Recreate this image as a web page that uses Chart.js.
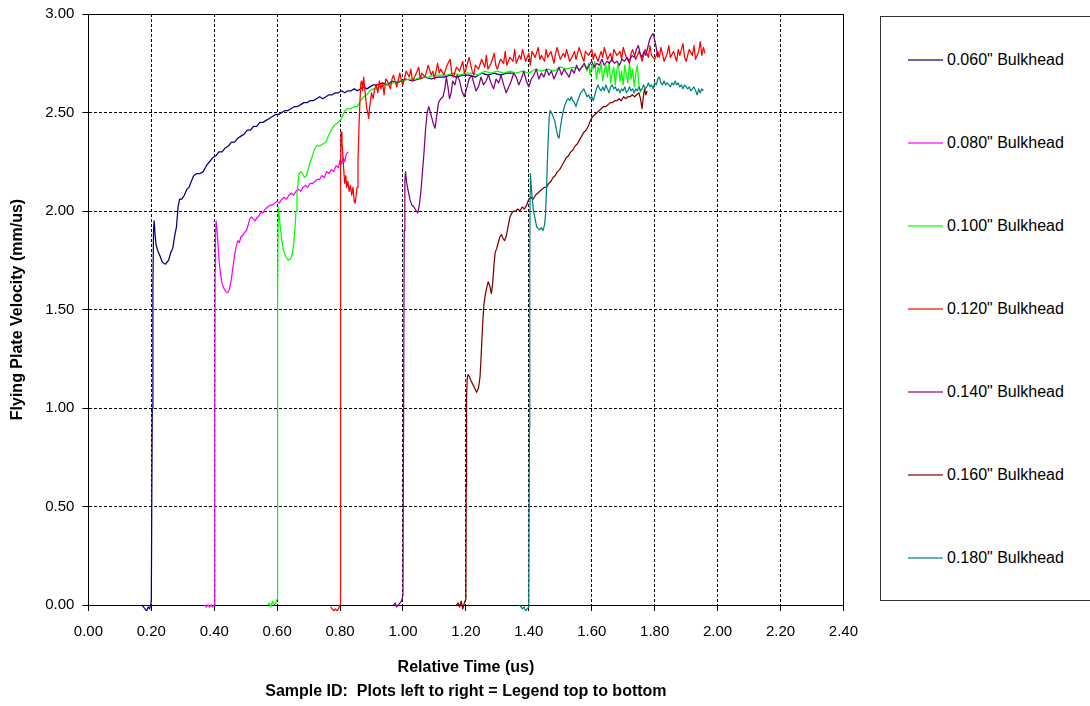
<!DOCTYPE html>
<html>
<head>
<meta charset="utf-8">
<title>Flying Plate Velocity vs Relative Time</title>
<script src="https://cdn.jsdelivr.net/npm/chart.js@4.4.1/dist/chart.umd.min.js"></script>
<style>
  html, body { margin: 0; padding: 0; background: #fff; overflow: hidden; }
  body { width: 1090px; height: 706px; position: relative; font-family: Arial, 'Liberation Sans', sans-serif; }
  #plotWrap { position: absolute; left: 0; top: 0; width: 870px; height: 706px; }
  #legend { position: absolute; left: 880px; top: 16px; width: 240px; height: 585px; border: 1px solid #333; box-sizing: border-box; }
  .leg-item { position: absolute; left: 27px; height: 20px; display: flex; align-items: center; font-size: 16px; color: #000; white-space: nowrap; }
  .leg-line { display: inline-block; width: 35px; height: 2px; opacity: 0.6; margin-right: 4px; }
</style>
</head>
<body>
<div id="plotWrap"><canvas id="velocityChart"></canvas></div>
<div id="legend"></div>
<script>
// ---------------------------------------------------------------------------
// Flying plate velocity traces, one per bulkhead thickness.
// Each trace is [relative time (us), velocity (mm/us)].
// ---------------------------------------------------------------------------
const NAMES = ['0.060" Bulkhead', '0.080" Bulkhead', '0.100" Bulkhead', '0.120" Bulkhead',
  '0.140" Bulkhead', '0.160" Bulkhead', '0.180" Bulkhead'];
const COLORS = ['#000080', '#FF00FF', '#00FF00', '#FF0000', '#800080', '#800000', '#008080'];
const X_TICKS = ['0.00', '0.20', '0.40', '0.60', '0.80', '1.00', '1.20', '1.40', '1.60', '1.80', '2.00', '2.20', '2.40'];
const Y_TICKS = ['0.00', '0.50', '1.00', '1.50', '2.00', '2.50', '3.00'];

const B060 = [
  [0.17,0.00],[0.175,-0.01],[0.18,-0.02],[0.185,-0.03],[0.19,-0.01],[0.195,-0.02],[0.20,0.02],
  [0.203,1.00],[0.205,1.60],[0.207,1.90],[0.209,1.95],[0.212,1.88],[0.215,1.83],[0.22,1.80],[0.228,1.77],
  [0.235,1.74],[0.245,1.73],[0.255,1.75],[0.262,1.79],[0.268,1.81],[0.275,1.88],[0.28,1.92],[0.285,2.02],
  [0.29,2.06],[0.297,2.06],[0.305,2.08],[0.313,2.11],[0.32,2.12],[0.327,2.15],[0.335,2.18],[0.345,2.19],
  [0.355,2.19],[0.365,2.20],[0.375,2.23],[0.385,2.25],[0.395,2.27],[0.405,2.28],[0.415,2.30],[0.425,2.30],
  [0.435,2.32],[0.445,2.33],[0.455,2.35],[0.465,2.35],[0.475,2.37],[0.485,2.38],[0.495,2.39],[0.505,2.41],
  [0.515,2.41],[0.525,2.43],[0.535,2.43],[0.545,2.45],[0.555,2.45],[0.565,2.46],[0.575,2.47],[0.585,2.48],
  [0.595,2.49],[0.605,2.49],[0.615,2.50],[0.625,2.51],[0.635,2.51],[0.645,2.52],[0.655,2.53],[0.665,2.53],
  [0.675,2.54],[0.685,2.55],[0.695,2.55],[0.705,2.56],[0.715,2.56],[0.725,2.57],[0.735,2.58],[0.745,2.57],
  [0.755,2.58],[0.765,2.59],[0.775,2.59],[0.785,2.60],[0.795,2.60],[0.805,2.61],[0.815,2.60],[0.825,2.61],
  [0.835,2.61],[0.845,2.62],[0.855,2.61],[0.865,2.62],[0.875,2.63],[0.885,2.62],[0.895,2.63],[0.905,2.64],
  [0.92,2.64],[0.935,2.65],[0.95,2.64],[0.965,2.66],[0.98,2.65],[0.995,2.66],[1.01,2.67],[1.03,2.66],
  [1.05,2.67],[1.07,2.68],[1.09,2.67],[1.11,2.68],[1.13,2.68],[1.15,2.69],[1.17,2.68],[1.19,2.69],
  [1.21,2.69],[1.23,2.68],[1.25,2.70],[1.27,2.69],[1.29,2.70],[1.31,2.69],[1.33,2.70],[1.35,2.70],
];

const B080 = [
  [0.37,0.00],[0.375,-0.01],[0.38,0.00],[0.385,-0.01],[0.39,0.00],[0.395,-0.01],[0.40,0.00],
  [0.402,0.90],[0.403,1.70],[0.404,1.88],[0.406,1.95],[0.409,1.90],[0.412,1.83],[0.416,1.74],[0.42,1.68],
  [0.425,1.63],[0.43,1.61],[0.437,1.59],[0.443,1.585],[0.448,1.60],[0.454,1.65],[0.46,1.72],[0.465,1.78],
  [0.47,1.82],[0.475,1.85],[0.48,1.84],[0.485,1.87],[0.49,1.875],[0.496,1.89],[0.502,1.90],[0.508,1.93],
  [0.513,1.96],[0.518,1.97],[0.524,1.96],[0.53,1.95],[0.535,1.965],[0.54,1.97],[0.547,1.99],[0.555,1.99],
  [0.562,2.01],[0.57,2.02],[0.578,2.03],[0.585,2.03],[0.592,2.04],[0.60,2.05],[0.607,2.04],[0.615,2.06],
  [0.622,2.07],[0.63,2.06],[0.637,2.08],[0.645,2.09],[0.652,2.08],[0.66,2.10],[0.667,2.11],[0.675,2.10],
  [0.682,2.12],[0.69,2.13],[0.697,2.12],[0.705,2.14],[0.712,2.14],[0.72,2.15],[0.727,2.16],[0.735,2.16],
  [0.742,2.18],[0.75,2.17],[0.757,2.20],[0.765,2.19],[0.772,2.21],[0.78,2.20],[0.787,2.23],[0.795,2.22],
  [0.80,2.26],[0.805,2.24],[0.81,2.27],[0.815,2.25],[0.82,2.29],[0.826,2.30],
];

const B100 = [
  [0.57,0.00],[0.575,0.01],[0.58,-0.01],[0.585,0.02],[0.59,0.00],[0.595,0.01],[0.60,0.03],
  [0.601,0.80],[0.602,1.55],[0.603,1.95],[0.604,2.02],[0.607,1.97],[0.61,1.92],[0.615,1.85],[0.62,1.80],
  [0.627,1.77],[0.635,1.75],[0.642,1.755],[0.648,1.78],[0.653,1.84],[0.657,1.92],[0.66,2.00],[0.663,2.08],
  [0.667,2.15],[0.67,2.19],[0.675,2.20],[0.68,2.19],[0.687,2.17],[0.693,2.18],[0.70,2.22],[0.705,2.25],
  [0.71,2.27],[0.718,2.31],[0.725,2.33],[0.735,2.33],[0.745,2.34],[0.755,2.35],[0.765,2.39],[0.775,2.42],
  [0.785,2.44],[0.795,2.45],[0.805,2.47],[0.815,2.51],[0.825,2.52],[0.835,2.52],[0.845,2.53],[0.855,2.53],
  [0.865,2.56],[0.875,2.58],[0.885,2.59],[0.895,2.61],[0.905,2.62],[0.915,2.62],[0.925,2.63],[0.94,2.64],
  [0.955,2.64],[0.97,2.65],[0.985,2.66],[1.00,2.66],[1.02,2.67],[1.04,2.67],[1.06,2.68],[1.08,2.68],
  [1.10,2.69],[1.12,2.69],[1.14,2.69],[1.16,2.70],[1.18,2.69],[1.20,2.70],[1.22,2.70],[1.24,2.69],
  [1.26,2.71],[1.28,2.70],[1.30,2.71],[1.32,2.70],[1.34,2.71],[1.36,2.70],[1.38,2.71],[1.40,2.70],
  [1.42,2.72],[1.44,2.71],[1.46,2.72],[1.48,2.71],[1.50,2.73],[1.52,2.72],[1.54,2.73],[1.56,2.72],
  [1.58,2.74],[1.585,2.71],[1.59,2.75],[1.595,2.69],[1.60,2.74],[1.605,2.72],[1.61,2.76],[1.615,2.67],
  [1.62,2.73],[1.625,2.70],[1.63,2.75],[1.635,2.66],[1.64,2.71],[1.645,2.74],[1.65,2.68],[1.655,2.76],
  [1.66,2.65],[1.665,2.70],[1.67,2.73],[1.675,2.64],[1.68,2.72],[1.685,2.75],[1.69,2.66],[1.695,2.71],
  [1.70,2.64],[1.705,2.74],[1.71,2.69],[1.715,2.65],[1.72,2.75],[1.725,2.67],[1.73,2.72],[1.735,2.63],
  [1.74,2.70],[1.745,2.74],[1.75,2.64],[1.755,2.60],
];

const B120 = [
  [0.77,-0.01],[0.775,-0.02],[0.78,-0.03],[0.785,-0.02],[0.79,-0.03],[0.795,-0.02],[0.80,0.00],
  [0.801,1.20],[0.802,2.20],[0.803,2.40],[0.806,2.35],[0.809,2.28],[0.812,2.20],[0.815,2.14],[0.818,2.18],
  [0.821,2.12],[0.825,2.15],[0.829,2.10],[0.833,2.13],[0.837,2.08],[0.841,2.12],[0.845,2.05],[0.848,2.04],
  [0.851,2.08],[0.854,2.12],[0.857,2.25],[0.86,2.42],[0.863,2.55],[0.866,2.65],[0.869,2.66],[0.872,2.61],
  [0.875,2.68],[0.878,2.63],[0.881,2.58],[0.885,2.52],[0.888,2.50],[0.891,2.47],[0.894,2.53],[0.897,2.56],
  [0.90,2.60],[0.905,2.57],[0.91,2.62],[0.915,2.64],[0.92,2.60],[0.925,2.66],[0.93,2.62],[0.935,2.65],
  [0.94,2.59],[0.945,2.67],[0.95,2.66],[0.96,2.62],[0.965,2.67],[0.97,2.69],[0.98,2.63],[0.99,2.70],
  [0.995,2.66],[1.00,2.64],[1.01,2.71],[1.02,2.68],[1.025,2.72],[1.03,2.66],[1.04,2.69],[1.05,2.73],
  [1.055,2.67],[1.06,2.70],[1.07,2.68],[1.08,2.74],[1.09,2.69],[1.095,2.71],[1.10,2.67],[1.11,2.75],
  [1.115,2.70],[1.12,2.72],[1.13,2.69],[1.14,2.74],[1.15,2.77],[1.155,2.70],[1.16,2.68],[1.17,2.73],
  [1.18,2.71],[1.19,2.76],[1.195,2.70],[1.20,2.72],[1.21,2.78],[1.22,2.71],[1.225,2.69],[1.23,2.74],
  [1.24,2.72],[1.25,2.77],[1.26,2.73],[1.265,2.79],[1.27,2.72],[1.28,2.75],[1.29,2.80],[1.295,2.74],
  [1.30,2.72],[1.31,2.77],[1.32,2.75],[1.325,2.81],[1.33,2.74],[1.34,2.78],[1.35,2.76],[1.355,2.82],
  [1.36,2.75],[1.37,2.79],[1.375,2.77],[1.38,2.82],[1.39,2.76],[1.40,2.80],[1.405,2.74],[1.41,2.81],
  [1.42,2.78],[1.43,2.83],[1.435,2.77],[1.44,2.79],[1.45,2.76],[1.455,2.82],[1.46,2.78],[1.47,2.81],
  [1.48,2.75],[1.485,2.80],[1.49,2.83],[1.50,2.77],[1.51,2.80],[1.515,2.78],[1.52,2.82],[1.53,2.76],
  [1.54,2.79],[1.545,2.81],[1.55,2.77],[1.56,2.83],[1.57,2.78],[1.575,2.76],[1.58,2.81],[1.59,2.79],
  [1.60,2.82],[1.605,2.77],[1.61,2.80],[1.62,2.76],[1.63,2.81],[1.635,2.78],[1.64,2.83],[1.65,2.77],
  [1.66,2.80],[1.665,2.76],[1.67,2.82],[1.68,2.79],[1.69,2.81],[1.695,2.77],[1.70,2.83],[1.71,2.78],
  [1.72,2.75],[1.725,2.80],[1.73,2.82],[1.74,2.77],[1.75,2.81],[1.755,2.79],[1.76,2.76],[1.77,2.82],
  [1.78,2.78],[1.785,2.84],[1.79,2.79],[1.80,2.77],[1.81,2.81],[1.815,2.78],[1.82,2.83],[1.83,2.76],
  [1.84,2.80],[1.845,2.84],[1.85,2.78],[1.86,2.81],[1.87,2.76],[1.875,2.82],[1.88,2.79],[1.89,2.85],
  [1.895,2.78],[1.90,2.76],[1.91,2.82],[1.92,2.79],[1.925,2.84],[1.93,2.77],[1.94,2.81],[1.945,2.86],
  [1.95,2.79],[1.955,2.83],[1.96,2.80],
];

const B140 = [
  [0.97,0.00],[0.975,0.01],[0.98,-0.01],[0.985,0.00],[0.99,0.01],[0.995,0.02],[1.00,0.05],
  [1.002,1.00],[1.004,1.90],[1.006,2.15],[1.008,2.20],[1.012,2.14],[1.017,2.10],[1.022,2.06],[1.028,2.03],
  [1.035,2.02],[1.042,2.00],[1.047,1.99],[1.052,2.03],[1.057,2.10],[1.062,2.20],[1.067,2.30],[1.072,2.42],
  [1.077,2.50],[1.082,2.53],[1.087,2.50],[1.092,2.47],[1.097,2.44],[1.102,2.42],[1.107,2.48],[1.113,2.55],
  [1.12,2.57],[1.127,2.58],[1.133,2.62],[1.138,2.68],[1.143,2.63],[1.148,2.57],[1.153,2.60],[1.158,2.66],
  [1.165,2.64],[1.172,2.69],[1.18,2.66],[1.187,2.61],[1.195,2.58],[1.202,2.62],[1.21,2.67],[1.218,2.69],
  [1.225,2.65],[1.232,2.61],[1.24,2.63],[1.248,2.68],[1.256,2.64],[1.264,2.66],[1.272,2.69],[1.28,2.65],
  [1.288,2.62],[1.296,2.67],[1.304,2.65],[1.312,2.69],[1.32,2.64],[1.328,2.60],[1.336,2.63],[1.344,2.66],
  [1.352,2.70],[1.36,2.68],[1.368,2.64],[1.376,2.67],[1.384,2.71],[1.392,2.66],[1.40,2.63],[1.408,2.67],
  [1.416,2.69],[1.424,2.72],[1.432,2.67],[1.44,2.70],[1.448,2.68],[1.456,2.72],[1.464,2.69],[1.472,2.71],
  [1.48,2.67],[1.488,2.70],[1.496,2.73],[1.504,2.69],[1.512,2.72],[1.52,2.70],[1.528,2.68],[1.536,2.72],
  [1.544,2.70],[1.552,2.74],[1.56,2.71],[1.568,2.73],[1.576,2.75],[1.584,2.72],[1.592,2.74],[1.60,2.76],
  [1.608,2.73],[1.616,2.75],[1.624,2.74],[1.632,2.77],[1.64,2.74],[1.648,2.76],[1.656,2.75],[1.664,2.77],
  [1.672,2.75],[1.68,2.76],[1.688,2.74],[1.696,2.77],[1.704,2.76],[1.712,2.78],[1.72,2.76],[1.728,2.79],
  [1.735,2.78],[1.742,2.82],[1.748,2.84],[1.754,2.80],[1.76,2.78],[1.766,2.81],[1.772,2.79],[1.778,2.83],
  [1.784,2.87],[1.79,2.89],[1.795,2.90],[1.80,2.87],[1.805,2.83],[1.81,2.78],
];

const B160 = [
  [1.17,0.00],[1.175,0.01],[1.18,-0.01],[1.185,0.02],[1.19,-0.02],[1.195,0.01],[1.20,0.03],
  [1.201,0.60],[1.202,1.05],[1.204,1.15],[1.207,1.17],[1.211,1.16],[1.216,1.14],[1.222,1.12],[1.228,1.10],
  [1.234,1.08],[1.24,1.10],[1.245,1.16],[1.249,1.28],[1.253,1.42],[1.257,1.52],[1.261,1.57],[1.266,1.61],
  [1.271,1.64],[1.276,1.62],[1.281,1.58],[1.285,1.63],[1.289,1.72],[1.293,1.79],[1.298,1.81],[1.303,1.84],
  [1.308,1.87],[1.313,1.88],[1.318,1.86],[1.323,1.85],[1.328,1.87],[1.334,1.92],[1.34,1.97],[1.346,1.99],
  [1.352,2.00],[1.358,2.00],[1.365,2.01],[1.372,2.00],[1.379,2.02],[1.386,2.01],[1.393,2.03],[1.40,2.06],
  [1.407,2.07],[1.414,2.06],[1.421,2.08],[1.428,2.09],[1.435,2.10],[1.442,2.11],[1.449,2.12],[1.456,2.12],
  [1.463,2.14],[1.47,2.15],[1.477,2.17],[1.484,2.18],[1.491,2.20],[1.498,2.21],[1.505,2.23],[1.512,2.25],
  [1.519,2.27],[1.526,2.28],[1.533,2.30],[1.54,2.31],[1.547,2.33],[1.554,2.34],[1.561,2.36],[1.568,2.38],
  [1.575,2.40],[1.582,2.41],[1.589,2.43],[1.596,2.46],[1.603,2.48],[1.61,2.49],[1.617,2.50],[1.624,2.51],
  [1.631,2.52],[1.638,2.53],[1.645,2.53],[1.652,2.54],[1.659,2.55],[1.666,2.55],[1.673,2.56],[1.68,2.56],
  [1.687,2.57],[1.694,2.56],[1.701,2.58],[1.708,2.57],[1.715,2.58],[1.722,2.58],[1.729,2.59],[1.736,2.58],
  [1.743,2.59],[1.75,2.60],[1.755,2.57],[1.76,2.52],[1.764,2.58],[1.768,2.62],[1.772,2.59],[1.776,2.61],
];

const B180 = [
  [1.37,0.00],[1.375,-0.01],[1.38,-0.02],[1.385,-0.01],[1.39,-0.03],[1.395,-0.02],[1.40,-0.01],
  [1.402,0.90],[1.403,1.70],[1.404,2.10],[1.405,2.19],[1.408,2.12],[1.411,2.06],[1.415,2.00],[1.42,1.96],
  [1.425,1.92],[1.43,1.91],[1.435,1.905],[1.44,1.915],[1.445,1.90],[1.45,1.93],[1.453,1.98],[1.456,2.10],
  [1.459,2.25],[1.462,2.38],[1.465,2.48],[1.468,2.51],[1.472,2.50],[1.477,2.48],[1.482,2.46],[1.487,2.42],
  [1.492,2.38],[1.496,2.37],[1.50,2.42],[1.505,2.47],[1.51,2.51],[1.515,2.54],[1.52,2.56],[1.525,2.57],
  [1.53,2.56],[1.535,2.58],[1.54,2.56],[1.545,2.55],[1.55,2.53],[1.555,2.56],[1.56,2.58],[1.565,2.60],
  [1.57,2.61],[1.575,2.62],[1.58,2.60],[1.585,2.58],[1.59,2.59],[1.595,2.57],[1.60,2.58],[1.605,2.56],
  [1.61,2.59],[1.615,2.62],[1.62,2.64],[1.625,2.62],[1.63,2.61],[1.635,2.63],[1.64,2.61],[1.645,2.64],
  [1.65,2.62],[1.655,2.60],[1.66,2.63],[1.665,2.64],[1.67,2.62],[1.675,2.63],[1.68,2.61],[1.685,2.62],
  [1.69,2.60],[1.695,2.62],[1.70,2.61],[1.705,2.63],[1.71,2.60],[1.715,2.61],[1.72,2.63],[1.725,2.61],
  [1.73,2.62],[1.735,2.60],[1.74,2.62],[1.745,2.61],[1.75,2.63],[1.755,2.61],[1.76,2.62],[1.765,2.64],
  [1.77,2.62],[1.775,2.63],[1.78,2.65],[1.785,2.63],[1.79,2.64],[1.795,2.62],[1.80,2.65],[1.805,2.64],
  [1.81,2.67],[1.815,2.68],[1.82,2.65],[1.825,2.64],[1.83,2.66],[1.835,2.64],[1.84,2.65],[1.85,2.63],
  [1.855,2.65],[1.86,2.64],[1.865,2.66],[1.87,2.64],[1.875,2.65],[1.88,2.63],[1.885,2.64],[1.89,2.62],
  [1.895,2.64],[1.90,2.63],[1.905,2.62],[1.91,2.63],[1.915,2.61],[1.92,2.62],[1.925,2.63],[1.93,2.61],
  [1.935,2.59],[1.94,2.62],[1.945,2.60],[1.95,2.62],[1.955,2.61],
];

const SERIES = [B060, B080, B100, B120, B140, B160, B180];

const FONT = "Arial, 'Liberation Sans', sans-serif";
Chart.defaults.font.family = FONT;
Chart.defaults.color = '#000';

// solid frame round the plot area (Excel style)
const plotFrame = {
  id: 'plotFrame',
  beforeDatasetsDraw(chart) {
    const { ctx, chartArea: a } = chart;
    ctx.save();
    ctx.strokeStyle = '#000';
    ctx.lineWidth = 1;
    ctx.strokeRect(Math.round(a.left) + 0.5, Math.round(a.top) + 0.5, Math.round(a.right - a.left), Math.round(a.bottom - a.top));
    ctx.restore();
  },
};

const datasets = SERIES.map((pts, i) => ({
  label: NAMES[i],
  data: pts.map(([x, y]) => ({ x, y })),
  borderColor: COLORS[i],
  borderWidth: 1.25,
  borderJoinStyle: 'round',
  pointRadius: 0,
  tension: 0,
  clip: 6,
  order: -i, // later traces sit on top, like the original
}));

new Chart(document.getElementById('velocityChart'), {
  type: 'line',
  data: { datasets },
  plugins: [plotFrame],
  options: {
    responsive: true, maintainAspectRatio: false, animation: false,
    layout: { padding: { top: 0, right: 17, left: 6, bottom: 2 } },
    plugins: { legend: { display: false }, tooltip: { enabled: false } },
    scales: {
      x: {
        type: 'linear', min: 0, max: 2.4,
        afterBuildTicks: (s) => { s.ticks = X_TICKS.map((t) => ({ value: parseFloat(t) })); },
        ticks: { callback: (v) => v.toFixed(2), font: { size: 15 }, padding: 12, maxRotation: 0, autoSkip: false },
        grid: { color: '#000', lineWidth: 1, tickLength: 6, tickColor: '#000' },
        border: { display: true, color: '#000', dash: [3, 2] },
        title: {
          display: true,
          text: ['Relative Time (us)', 'Sample ID:  Plots left to right = Legend top to bottom'],
          font: { size: 16, weight: 'bold', lineHeight: 1.5 },
          padding: { top: 3, bottom: 0 },
        },
      },
      y: {
        min: 0, max: 3,
        afterBuildTicks: (s) => { s.ticks = Y_TICKS.map((t) => ({ value: parseFloat(t) })); },
        // tight line height so the top label does not push the plot area down
        ticks: { callback: (v) => v.toFixed(2), font: { size: 15, lineHeight: 0.8 }, padding: 8 },
        grid: { color: '#000', lineWidth: 1, tickLength: 6, tickColor: '#000' },
        border: { display: true, color: '#000', dash: [3, 2] },
        title: {
          display: true, text: 'Flying Plate Velocity (mm/us)',
          font: { size: 16, weight: 'bold' }, padding: { top: 2, bottom: 10 },
        },
      },
    },
  },
});

// legend box on the right, built from the same names and colours
const legend = document.getElementById('legend');
NAMES.forEach((name, i) => {
  const item = document.createElement('div');
  item.className = 'leg-item';
  item.style.top = (33 + i * 83) + 'px';
  const swatch = document.createElement('span');
  swatch.className = 'leg-line';
  swatch.style.backgroundColor = COLORS[i];
  const label = document.createElement('span');
  label.textContent = name;
  item.append(swatch, label);
  legend.appendChild(item);
});
</script>
</body>
</html>
